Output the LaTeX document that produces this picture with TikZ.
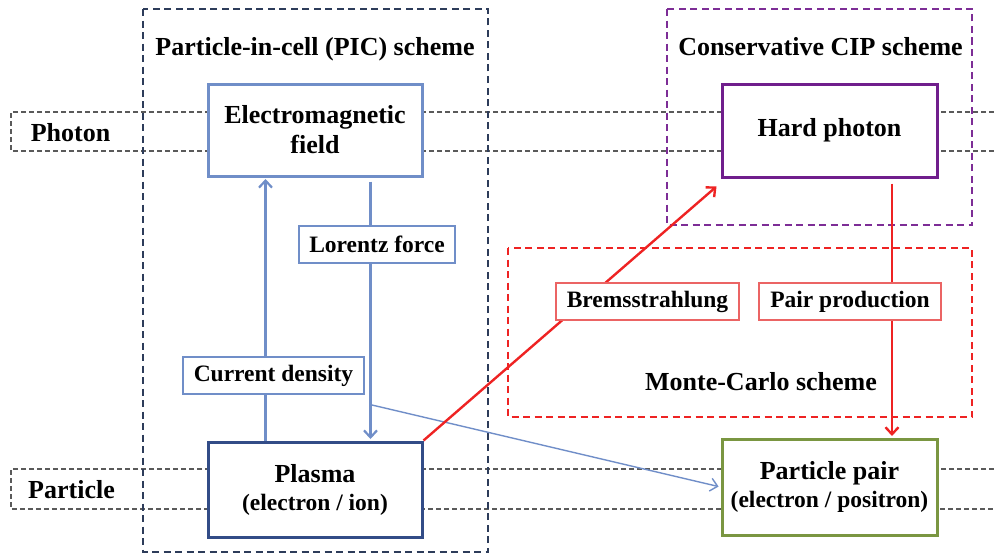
\documentclass[tikz,border=0pt]{standalone}
\usepackage{fontspec}
\setmainfont{Liberation Serif}
\usetikzlibrary{arrows.meta,calc,shadows}
\pgfdeclarelayer{bg}
\pgfsetlayers{bg,main}

\definecolor{emblue}{RGB}{112,142,200}
\definecolor{navy}{RGB}{50,76,135}
\definecolor{picnavy}{RGB}{45,60,90}
\definecolor{purp}{RGB}{112,30,140}
\definecolor{cipurp}{RGB}{125,45,150}
\definecolor{redl}{RGB}{238,35,35}
\definecolor{redbox}{RGB}{235,100,100}
\definecolor{grn}{RGB}{122,150,65}
\definecolor{bandc}{RGB}{90,90,90}

\tikzset{
 mainbox/.style={draw, line width=3pt, fill=white, inner sep=0pt, align=center,
   font=\bfseries\fontsize{26}{30}\selectfont,
   drop shadow={shadow xshift=1.5pt, shadow yshift=-1.5pt, opacity=.25, fill=black}},
 lblbox/.style={draw, line width=1.2pt, fill=white, inner sep=0pt, minimum height=37pt,
   font=\bfseries\fontsize{23.5}{28}\selectfont},
 titletext/.style={anchor=base, font=\bfseries\fontsize{26}{30}\selectfont},
 bandline/.style={draw=bandc, line width=1.2pt, dash pattern=on 5pt off 3pt},
 schemebox/.style={line width=1.8pt, dash pattern=on 7pt off 4.5pt},
 bluearr/.style={draw=emblue, line width=2.2pt, -{Straight Barb[length=7pt,width=13pt]}},
 redarr/.style={draw=redl, line width=2.4pt, -{Straight Barb[length=7pt,width=13pt]}},
}

\begin{document}
\begin{tikzpicture}[x=1pt,y=-1pt]
\useasboundingbox (0,0) rectangle (994,554);

% main boxes
\node[mainbox, draw=emblue, minimum width=214pt, minimum height=92pt] (em) at (315,130)
  {Electromagnetic\\field};
\node[mainbox, draw=navy, minimum width=214pt, minimum height=95pt] (plasma) at (315,489.5)
  {Plasma\\[-2pt]{\fontsize{23.5}{28}\selectfont (electron / ion)}};
\node[mainbox, draw=purp, minimum width=215pt, minimum height=93pt] (hp) at (829.5,130.5)
  {Hard photon};
\node[mainbox, draw=grn, minimum width=215pt, minimum height=96pt] (pp) at (829.5,487)
  {Particle pair\\[-2pt]{\fontsize{23.5}{28}\selectfont (electron / positron)}};

% label boxes
\node[lblbox, draw=emblue, minimum width=156pt] (lf) at (377,244.5) {Lorentz force};
\node[lblbox, draw=emblue, minimum width=181pt] (cd) at (273.5,375.5) {Current density};
\node[lblbox, draw=redbox, minimum width=183pt] (bs) at (647.5,301.5) {Bremsstrahlung};
\node[lblbox, draw=redbox, minimum width=182pt] (pr) at (850,301.5) {Pair production};

% titles
\node[titletext] (pict) at (315,55) {Particle-in-cell (PIC) scheme};
\node[titletext] (cipt) at (820.5,55) {Conservative CIP scheme};
\node[titletext] (mct) at (761,390) {Monte-Carlo scheme};
\node[titletext] (ph) at (70.5,141) {Photon};
\node[titletext] (pa) at (71.5,498) {Particle};

\coordinate (bj) at (372,405);

\begin{pgfonlayer}{bg}
 \draw[bandline] (994,112) -- (11,112) -- (11,151) -- (994,151);
 \draw[bandline] (994,469) -- (11,469) -- (11,509) -- (994,509);
 \draw[schemebox, draw=picnavy] (143,9) rectangle (488,552);
 \draw[schemebox, draw=cipurp] (667,9) rectangle (972,225);
 \draw[schemebox, draw=redl] (508,248) rectangle (972,417);

 \draw[bluearr, shorten >=1.5pt] ($(plasma.north west)+(59,0)$) -- ($(em.south west)+(59,0)$);
 \draw[bluearr, shorten >=1.5pt, shorten <=4pt] ($(em.south west)+(164,0)$) -- ($(plasma.north west)+(164,0)$);
 \draw[bluearr, line width=1.4pt, shorten >=2pt] (bj) -- (pp.west);
 \draw[redarr] (plasma.north east) -- ($(hp.south west)+(-4,8)$);
 \draw[redarr, shorten <=5pt, shorten >=1.5pt] ($(hp.south)+(62.5,0)$) -- ($(pp.north)+(62.5,0)$);
\end{pgfonlayer}
\end{tikzpicture}
\end{document}
